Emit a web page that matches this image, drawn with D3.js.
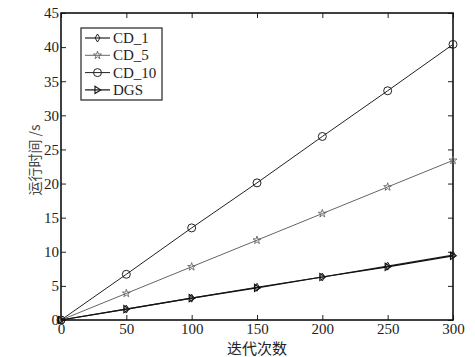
<!DOCTYPE html>
<html><head><meta charset="utf-8">
<script src="https://cdn.jsdelivr.net/npm/d3@7"></script>
<style>body{margin:0;background:#fff}svg{display:block}</style>
</head><body>
<script>
const iterations = [0, 50, 100, 150, 200, 250, 300];
const cd1 = [0, 1.6, 3.2, 4.8, 6.3, 7.9, 9.5];
const cd5 = [0, 3.9, 7.8, 11.7, 15.6, 19.5, 23.4];
const cd10 = [0, 6.7, 13.5, 20.1, 26.9, 33.6, 40.4];
const dgs = [0, 1.6, 3.2, 4.7, 6.3, 7.8, 9.4];
const seriesNames = ["CD_1", "CD_5", "CD_10", "DGS"];
const xTicks = [0, 50, 100, 150, 200, 250, 300];
const yTicks = [0, 5, 10, 15, 20, 25, 30, 35, 40, 45];

const W = 475, H = 357;
const m = {l: 61, r: 22, t: 13, b: 37};
const svg = d3.select("body").append("svg").attr("width", W).attr("height", H);
const x = d3.scaleLinear().domain([0, 300]).range([m.l, W - m.r]);
const y = d3.scaleLinear().domain([0, 45]).range([H - m.b, m.t]);
const font = "'Liberation Serif', 'Times New Roman', serif";

const g = svg.append("g");
const tl = 5;
g.append("g").attr("transform", `translate(0,${y(0)})`)
  .call(d3.axisBottom(x).tickValues(xTicks).tickSizeInner(-tl).tickSizeOuter(0).tickPadding(3))
  .call(a => { a.select(".domain").remove(); a.selectAll("text").attr("font-size", 15).attr("font-family", font).attr("fill", "#222"); });
g.append("g").attr("transform", `translate(${x(0)},0)`)
  .call(d3.axisLeft(y).tickValues(yTicks).tickSizeInner(-tl).tickSizeOuter(0).tickPadding(2))
  .call(a => { a.select(".domain").remove(); a.selectAll("text").attr("font-size", 15).attr("font-family", font).attr("fill", "#222"); });
g.append("g").attr("transform", `translate(0,${y(45)})`)
  .call(d3.axisTop(x).tickValues(xTicks).tickSizeInner(-tl).tickSizeOuter(0).tickFormat(""))
  .call(a => a.select(".domain").remove());
g.append("g").attr("transform", `translate(${x(300)},0)`)
  .call(d3.axisRight(y).tickValues(yTicks).tickSizeInner(-tl).tickSizeOuter(0).tickFormat(""))
  .call(a => a.select(".domain").remove());
g.selectAll(".tick line").attr("stroke", "#222");
g.append("rect").attr("x", x(0)).attr("y", y(45)).attr("width", x(300) - x(0)).attr("height", y(0) - y(45))
  .attr("fill", "none").attr("stroke", "#111").attr("stroke-width", 1.6);

const sym = {
  diamond: (s) => `M0,${-s}L${s*0.6},0L0,${s}L${-s*0.6},0Z`,
  star: (s) => d3.symbol(d3.symbolStar, s * s * 2.2)(),
  circle: (s) => d3.symbol(d3.symbolCircle, Math.PI * s * s)(),
  tri: (s) => `M${-s*0.7},${-s}L${s*0.9},0L${-s*0.7},${s}Z`
};
const series = [
  {name: seriesNames[0], vals: cd1, color: "#222", w: 1.2, mk: sym.diamond(4), ms: 1},
  {name: seriesNames[1], vals: cd5, color: "#666", w: 1, mk: sym.star(3), ms: 0.9},
  {name: seriesNames[2], vals: cd10, color: "#222", w: 1, mk: sym.circle(4), ms: 1},
  {name: seriesNames[3], vals: dgs, color: "#111", w: 1.2, mk: sym.tri(3.6), ms: 1.1}
];
const line = d3.line().x((d, i) => x(iterations[i])).y(d => y(d));
series.forEach(s => {
  svg.append("path").datum(s.vals).attr("d", line).attr("fill", "none")
    .attr("stroke", s.color).attr("stroke-width", s.w);
  svg.selectAll(null).data(s.vals).enter().append("path")
    .attr("transform", (d, i) => `translate(${x(iterations[i])},${y(d)})`)
    .attr("d", s.mk).attr("fill", "none").attr("stroke", s.color).attr("stroke-width", s.ms);
});

const lg = svg.append("g");
lg.append("rect").attr("x", 81).attr("y", 28).attr("width", 81).attr("height", 72)
  .attr("fill", "#fff").attr("stroke", "#222").attr("stroke-width", 1.2);
series.forEach((s, i) => {
  const yy = 38 + i * 17.3;
  lg.append("line").attr("x1", 85).attr("x2", 110).attr("y1", yy).attr("y2", yy)
    .attr("stroke", s.color).attr("stroke-width", s.w);
  lg.append("path").attr("transform", `translate(97.5,${yy})`).attr("d", s.mk)
    .attr("fill", "none").attr("stroke", s.color).attr("stroke-width", s.ms);
  lg.append("text").attr("x", 113).attr("y", yy + 5).attr("font-size", 15)
    .attr("font-family", font).attr("fill", "#222").text(s.name);
});

svg.append("text").attr("x", (x(0) + x(300)) / 2).attr("y", 354).attr("text-anchor", "middle")
  .attr("font-size", 15).attr("font-family", "'Noto Sans CJK SC', sans-serif").attr("fill", "#222").text("迭代次数");
svg.append("text").attr("transform", `translate(40,160) rotate(-90)`)
  .attr("text-anchor", "middle").attr("font-size", 14)
  .attr("font-family", "'Noto Sans CJK SC', sans-serif").attr("fill", "#444").text("运行时间 /s");
</script>
</body></html>
